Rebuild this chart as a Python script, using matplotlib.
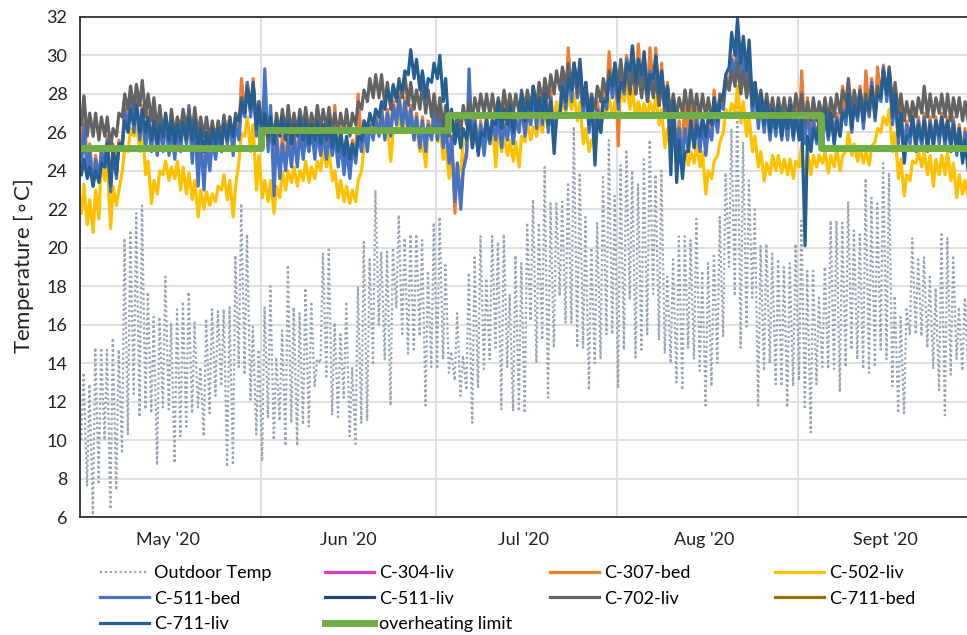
import numpy as np
import matplotlib
matplotlib.use("Agg")
import matplotlib.pyplot as plt
import matplotlib.dates as mdates

plt.rcParams['font.family'] = ['Lato', 'DejaVu Sans']

start = np.datetime64('2020-05-01')

# daily outdoor max / min, 1 May .. 30 Sep 2020
outdoor_hi = [13.5, 12.9, 14.8, 14.8, 14.7, 15.3, 14.7, 20.5, 20.9, 21.8,
              22.2, 17.7, 16.4, 16.4, 18.5, 16.1, 16.8, 17.2, 17.7, 16.1,
              13.8, 16.3, 16.8, 16.7, 16.8, 16.9, 19.6, 22.3, 20.7, 15.9,
              14.7, 16.9, 18.0, 14.3, 15.7, 19.1, 16.9, 16.6, 17.9, 17.2,
              14.2, 19.7, 19.9, 16.1, 15.5, 17.2, 13.8, 18.0, 20.3, 19.4,
              23.0, 19.8, 19.8, 20.0, 21.7, 20.5, 20.7, 20.7, 20.4, 18.8,
              21.3, 21.6, 19.1, 14.6, 16.6, 14.4, 18.7, 19.5, 20.6, 18.4,
              20.6, 20.3, 20.7, 17.6, 19.6, 19.2, 21.3, 22.5, 21.3, 24.2,
              22.3, 22.3, 22.4, 23.4, 26.3, 23.9, 21.6, 20.0, 21.3, 23.8,
              25.6, 22.7, 24.3, 25.1, 24.0, 23.3, 24.6, 25.6, 23.8, 24.0,
              18.5, 19.4, 20.6, 20.6, 20.4, 21.5, 18.8, 19.2, 19.7, 21.6,
              23.9, 26.2, 27.8, 25.5, 23.5, 22.0, 20.1, 20.2, 19.7, 19.4,
              19.0, 19.2, 20.2, 21.4, 18.8, 18.8, 17.4, 19.0, 21.4, 21.4,
              21.3, 22.4, 20.9, 20.7, 23.6, 22.6, 22.3, 24.4, 23.9, 17.5,
              16.4, 16.8, 20.5, 19.4, 19.5, 18.5, 17.9, 20.7, 20.5, 19.6,
              16.9, 17.4, 17.0]
outdoor_lo = [10.0, 7.6, 6.1, 7.7, 10.0, 6.4, 7.4, 9.3, 10.3, 12.4,
              11.2, 11.6, 11.4, 8.7, 11.7, 11.6, 8.8, 10.2, 10.7, 11.4,
              11.7, 10.2, 11.4, 12.3, 12.8, 8.6, 8.7, 13.8, 13.4, 12.1,
              10.3, 8.9, 11.2, 10.0, 11.0, 9.7, 10.9, 9.7, 10.8, 10.7,
              12.8, 14.0, 13.3, 11.3, 11.2, 12.2, 10.2, 9.8, 10.9, 11.0,
              13.9, 16.0, 14.2, 11.8, 16.9, 15.4, 14.5, 14.6, 15.4, 11.8,
              13.8, 13.7, 14.2, 13.5, 13.1, 12.3, 12.6, 10.9, 12.7, 13.7,
              14.2, 14.8, 11.6, 13.8, 11.5, 11.5, 11.4, 16.2, 14.0, 15.2,
              12.2, 14.8, 17.5, 16.1, 16.1, 14.8, 14.8, 12.6, 14.0, 14.2,
              15.5, 15.5, 12.7, 14.7, 17.3, 14.3, 14.7, 15.5, 17.6, 15.2,
              14.5, 14.0, 13.0, 12.6, 14.8, 14.2, 13.6, 11.8, 12.8, 14.0,
              15.4, 19.0, 17.5, 14.8, 15.9, 17.4, 11.8, 13.6, 14.0, 12.9,
              12.8, 11.7, 12.8, 13.1, 11.6, 10.4, 12.9, 13.8, 13.7, 13.7,
              12.5, 13.8, 14.7, 14.2, 13.7, 13.5, 13.8, 14.7, 14.2, 12.8,
              11.4, 11.4, 15.5, 15.5, 15.4, 14.8, 13.7, 12.6, 11.3, 13.4,
              14.2, 13.6, 13.4]

# C-307-bed
c307bed_hi = [27.8, 25.4, 24.8, 25.2, 25.8, 25.4, 25.6, 27.6, 28.4, 28.0,
              27.4, 27.0, 27.0, 26.6, 27.0, 26.6, 26.4, 26.8, 27.2, 26.8,
              26.0, 25.6, 26.0, 26.4, 26.6, 26.8, 26.8, 28.8, 28.6, 28.8,
              27.6, 27.2, 27.0, 26.2, 25.8, 26.2, 26.0, 26.4, 26.2, 26.6,
              26.4, 26.4, 26.2, 27.4, 26.0, 25.6, 25.6, 28.0, 26.6, 26.8,
              27.2, 27.4, 27.2, 27.6, 28.0, 27.8, 27.4, 27.0, 26.8, 26.6,
              27.4, 27.2, 26.6, 25.8, 24.4, 24.4, 27.0, 26.8, 26.6, 26.4,
              26.8, 27.0, 27.8, 27.2, 26.8, 27.6, 27.2, 28.4, 28.4, 28.8,
              28.2, 27.4, 29.2, 30.4, 29.6, 28.8, 28.6, 27.8, 27.6, 28.2,
              30.2, 29.6, 29.2, 30.0, 30.4, 30.6, 30.0, 30.4, 30.4, 29.6,
              28.6, 27.6, 26.6, 28.2, 28.2, 27.2, 26.8, 26.6, 28.2, 27.6,
              29.0, 30.0, 30.8, 30.4, 29.8, 28.6, 27.8, 27.6, 27.2, 27.4,
              27.2, 27.4, 28.0, 29.2, 27.8, 26.8, 26.8, 27.2, 27.4, 27.0,
              28.4, 28.2, 27.8, 28.4, 29.2, 28.8, 29.4, 29.5, 29.4, 28.2,
              27.2, 26.6, 27.0, 26.8, 27.0, 26.8, 26.8, 27.0, 26.8, 26.8,
              26.4, 26.2, 25.8]
c307bed_lo = [24.4, 23.8, 23.4, 23.6, 24.2, 23.2, 23.8, 25.2, 26.2, 26.2,
              25.8, 25.4, 25.2, 25.0, 25.2, 25.0, 24.8, 25.2, 25.4, 24.6,
              23.6, 23.4, 24.2, 24.8, 25.0, 25.4, 25.0, 26.0, 27.0, 27.0,
              26.0, 25.6, 25.2, 24.4, 24.0, 24.4, 24.4, 24.6, 24.8, 25.0,
              24.8, 25.0, 24.8, 25.2, 24.4, 24.0, 23.8, 24.8, 25.2, 25.2,
              25.8, 26.0, 25.8, 26.0, 26.6, 26.4, 26.2, 25.8, 25.4, 25.2,
              25.8, 25.8, 25.4, 24.0, 21.8, 22.4, 25.0, 25.4, 25.2, 25.0,
              25.6, 25.8, 25.4, 25.8, 25.6, 26.2, 26.0, 26.6, 26.4, 26.6,
              26.2, 25.6, 27.0, 27.4, 27.8, 27.8, 27.0, 26.2, 25.8, 26.2,
              27.4, 27.8, 25.3, 28.2, 28.6, 28.2, 28.4, 27.8, 28.2, 27.6,
              27.0, 25.8, 25.0, 24.8, 25.2, 25.4, 25.2, 25.0, 25.8, 26.2,
              27.4, 28.4, 29.0, 28.8, 28.2, 27.0, 26.4, 26.2, 25.8, 26.0,
              25.8, 25.8, 25.8, 26.0, 25.6, 25.4, 25.6, 25.8, 25.8, 25.6,
              26.0, 26.6, 26.2, 26.8, 26.4, 27.0, 26.8, 27.8, 27.8, 26.6,
              25.6, 25.0, 25.6, 25.2, 25.4, 25.2, 25.4, 25.6, 25.4, 25.2,
              25.0, 24.8, 24.6]

# C-502-liv
c502liv_hi = [23.3, 22.5, 23.0, 24.8, 24.5, 23.2, 23.0, 25.2, 26.2, 26.6,
              26.3, 24.5, 23.5, 24.0, 24.5, 24.2, 24.5, 24.2, 23.9, 23.5,
              23.0, 22.9, 22.8, 23.2, 23.8, 23.5, 23.2, 25.9, 26.8, 26.4,
              24.8, 23.5, 23.5, 23.2, 24.0, 24.0, 24.2, 24.0, 24.5, 24.2,
              24.5, 25.2, 25.0, 24.0, 23.5, 23.2, 23.0, 23.5, 25.2, 26.5,
              27.0, 27.2, 26.5, 26.0, 26.8, 26.8, 27.0, 26.3, 25.6, 26.2,
              27.0, 26.3, 25.2, 24.2, 24.2, 25.5, 26.0, 26.2, 26.0, 25.8,
              26.4, 26.3, 25.8, 25.6, 25.5, 25.8, 26.5, 26.3, 26.6, 27.0,
              27.3, 27.6, 27.8, 28.0, 28.0, 27.6, 26.2, 25.6, 26.2, 27.2,
              27.8, 27.6, 28.2, 28.6, 28.2, 27.6, 27.5, 27.6, 27.8, 27.2,
              26.2, 25.8, 26.0, 25.2, 25.0, 25.4, 25.0, 24.0, 24.5, 25.5,
              27.2, 27.5, 28.4, 27.6, 26.8, 25.8, 25.0, 24.4, 24.8, 24.8,
              24.6, 24.6, 24.5, 25.4, 25.0, 24.8, 24.8, 25.0, 24.8, 25.2,
              24.8, 26.0, 25.4, 25.2, 25.0, 25.3, 26.2, 26.8, 27.2, 26.0,
              24.6, 23.8, 24.5, 25.0, 25.0, 24.8, 24.6, 24.8, 25.0, 24.4,
              23.8, 23.5, 23.4]
c502liv_lo = [21.8, 21.2, 20.8, 21.5, 23.5, 21.0, 22.2, 24.0, 25.0, 25.8,
              25.0, 23.8, 22.3, 22.8, 23.8, 23.5, 23.6, 23.0, 22.8, 22.5,
              21.6, 22.0, 22.2, 22.4, 23.0, 22.5, 21.6, 24.5, 25.8, 25.0,
              23.0, 22.6, 22.4, 21.8, 22.6, 23.0, 23.4, 23.2, 23.5, 23.4,
              23.6, 24.0, 24.2, 23.5, 22.6, 22.4, 22.3, 22.4, 24.0, 25.5,
              26.2, 26.2, 25.8, 24.5, 26.2, 26.0, 26.2, 25.6, 25.0, 24.2,
              26.2, 25.5, 24.6, 23.6, 23.7, 24.0, 25.4, 25.4, 25.2, 25.0,
              25.6, 24.2, 25.0, 24.8, 24.5, 24.2, 25.5, 25.6, 25.8, 26.0,
              26.4, 26.7, 26.8, 27.0, 27.2, 26.6, 25.4, 25.0, 25.2, 26.2,
              27.0, 26.8, 27.0, 27.6, 27.2, 26.8, 26.8, 26.8, 27.0, 26.4,
              25.2, 25.0, 25.4, 24.6, 24.3, 24.4, 24.2, 22.8, 23.6, 24.8,
              26.0, 26.8, 27.0, 26.5, 25.8, 25.0, 24.2, 23.5, 23.8, 24.0,
              23.9, 23.8, 23.6, 24.2, 22.9, 23.8, 24.2, 24.4, 23.9, 24.2,
              24.0, 25.0, 24.8, 24.5, 24.4, 24.3, 25.5, 26.0, 26.4, 25.0,
              23.6, 22.7, 23.5, 24.4, 24.2, 23.8, 23.2, 23.8, 23.8, 23.5,
              22.6, 22.8, 22.6]

# C-511-bed
c511bed_hi = [26.4, 25.0, 24.6, 25.0, 25.6, 25.0, 25.4, 27.2, 27.8, 27.6,
              27.0, 26.6, 26.8, 26.4, 26.8, 26.4, 26.2, 26.6, 27.4, 26.8,
              25.8, 25.4, 25.6, 26.0, 26.4, 26.8, 26.4, 27.4, 28.6, 28.4,
              27.6, 29.3, 27.4, 25.8, 25.4, 25.6, 25.8, 26.0, 25.8, 26.2,
              26.0, 26.0, 25.8, 25.8, 25.6, 25.2, 25.2, 25.8, 26.2, 26.4,
              26.8, 27.2, 27.0, 27.4, 27.8, 27.6, 27.2, 26.8, 26.6, 26.4,
              27.2, 27.0, 26.4, 25.8, 24.4, 24.0, 29.3, 26.6, 26.4, 26.2,
              26.6, 26.8, 26.4, 27.0, 26.6, 27.4, 27.0, 28.2, 27.6, 28.2,
              27.8, 27.0, 28.8, 29.0, 29.4, 29.2, 28.4, 27.6, 27.2, 27.8,
              29.0, 29.4, 29.0, 29.8, 30.2, 29.6, 29.8, 29.2, 29.6, 29.0,
              28.2, 27.4, 26.2, 26.2, 26.6, 26.8, 26.6, 26.2, 27.2, 27.4,
              28.8, 29.8, 30.6, 30.2, 29.6, 28.4, 27.6, 27.4, 27.0, 27.2,
              27.0, 27.2, 27.0, 27.8, 27.4, 26.6, 26.6, 26.8, 27.0, 26.8,
              27.2, 28.0, 27.6, 28.2, 27.8, 28.6, 28.2, 29.4, 29.2, 28.0,
              27.0, 26.4, 26.8, 26.6, 26.8, 26.6, 26.6, 26.8, 26.6, 26.6,
              26.2, 26.0, 25.6]
c511bed_lo = [24.2, 23.8, 23.2, 23.6, 24.2, 22.9, 23.6, 25.2, 26.2, 26.0,
              25.6, 25.2, 25.0, 24.8, 25.0, 24.8, 24.6, 25.0, 25.4, 24.4,
              23.2, 23.0, 24.0, 24.6, 25.0, 25.4, 24.8, 25.6, 26.8, 26.8,
              25.8, 25.8, 25.0, 22.7, 23.6, 24.0, 24.2, 24.2, 24.6, 25.0,
              24.6, 24.8, 24.6, 24.8, 24.2, 23.8, 23.6, 24.4, 25.0, 25.0,
              25.6, 25.8, 25.6, 25.8, 26.4, 26.2, 26.0, 25.6, 25.2, 25.0,
              25.6, 25.6, 25.2, 24.4, 22.4, 22.0, 24.8, 25.2, 25.0, 24.8,
              25.4, 25.6, 25.2, 25.6, 25.4, 26.0, 25.8, 26.4, 26.2, 26.4,
              26.0, 25.4, 26.8, 27.2, 27.6, 27.8, 26.8, 26.0, 25.4, 26.0,
              27.2, 27.8, 27.2, 28.0, 28.4, 28.0, 28.2, 27.6, 28.0, 27.4,
              26.8, 25.6, 24.8, 24.6, 25.0, 25.2, 25.0, 24.8, 25.6, 26.0,
              27.2, 28.2, 28.8, 28.6, 28.0, 26.8, 26.2, 26.0, 25.6, 25.8,
              25.6, 25.6, 25.6, 25.8, 25.4, 25.2, 25.4, 25.6, 25.6, 25.4,
              25.8, 26.4, 26.0, 26.6, 26.2, 26.8, 26.6, 27.6, 27.6, 26.4,
              25.4, 24.8, 25.4, 25.0, 25.2, 25.0, 25.2, 25.4, 25.2, 25.0,
              24.8, 24.6, 24.4]

# C-702-liv
c702liv_hi = [27.9, 27.0, 27.0, 26.8, 26.8, 26.2, 27.0, 28.0, 28.4, 28.5,
              28.7, 28.0, 27.8, 27.4, 26.8, 27.2, 26.8, 27.2, 27.2, 27.3,
              26.8, 26.8, 26.6, 26.6, 26.9, 26.8, 27.0, 27.8, 28.4, 28.5,
              27.6, 27.0, 26.8, 27.0, 27.2, 27.4, 27.0, 27.2, 27.3, 27.0,
              27.4, 27.2, 27.3, 27.0, 27.0, 27.2, 27.0, 27.6, 28.2, 28.8,
              29.0, 29.0, 28.6, 28.5, 28.8, 29.0, 28.6, 28.2, 28.5, 28.2,
              28.0, 27.8, 27.4, 27.0, 27.0, 27.4, 27.6, 27.8, 28.0, 28.0,
              28.0, 27.8, 28.2, 28.0, 28.0, 28.2, 28.2, 28.4, 28.6, 28.8,
              29.0, 29.2, 29.4, 29.6, 29.6, 29.2, 28.6, 28.0, 28.4, 28.8,
              29.2, 29.6, 29.8, 29.4, 29.2, 29.2, 29.0, 28.8, 28.8, 28.6,
              28.4, 28.0, 27.8, 28.2, 28.2, 28.0, 28.0, 27.8, 27.6, 28.0,
              28.8, 29.2, 29.6, 29.2, 29.0, 28.6, 28.2, 28.0, 27.8, 27.8,
              27.8, 27.8, 28.0, 28.0, 27.6, 27.8, 27.6, 27.8, 27.8, 28.0,
              28.2, 28.8, 28.2, 28.2, 28.0, 28.2, 28.4, 29.2, 29.4, 28.6,
              28.0, 27.6, 27.6, 27.8, 28.4, 28.0, 27.8, 28.0, 28.0, 27.8,
              27.8, 27.6, 27.4]
c702liv_lo = [26.4, 25.8, 25.8, 25.6, 25.8, 25.2, 25.8, 26.8, 27.2, 27.2,
              27.4, 26.8, 26.6, 26.0, 25.8, 25.9, 25.8, 26.2, 26.2, 26.0,
              25.8, 25.8, 25.6, 25.6, 25.8, 25.8, 25.8, 26.6, 27.2, 27.2,
              26.5, 25.8, 25.6, 25.8, 26.0, 26.0, 26.0, 26.0, 26.2, 26.0,
              26.2, 26.2, 26.2, 26.0, 26.0, 26.0, 25.8, 26.4, 27.2, 27.6,
              27.8, 27.8, 27.4, 27.2, 27.6, 27.8, 27.4, 27.2, 27.2, 27.0,
              26.8, 26.6, 26.2, 25.8, 25.8, 26.0, 26.4, 26.8, 27.0, 27.0,
              26.9, 26.8, 27.0, 27.0, 27.0, 27.0, 27.2, 27.2, 27.4, 27.6,
              27.8, 28.0, 28.2, 28.4, 28.4, 28.0, 27.4, 27.0, 27.2, 27.6,
              28.0, 28.4, 28.6, 28.2, 28.0, 28.0, 27.8, 27.6, 27.8, 27.4,
              27.2, 27.0, 26.8, 27.0, 27.0, 27.0, 26.8, 26.8, 26.6, 27.0,
              27.6, 28.2, 28.4, 28.0, 27.8, 27.4, 27.2, 27.0, 26.8, 26.6,
              26.8, 26.6, 26.8, 27.0, 26.4, 26.6, 26.6, 26.8, 26.6, 26.8,
              27.0, 27.6, 27.0, 27.2, 27.0, 27.0, 27.2, 28.0, 28.2, 27.4,
              27.0, 26.6, 26.6, 26.8, 27.0, 26.8, 26.8, 27.0, 26.8, 26.6,
              26.8, 26.6, 26.4]

# C-711-liv
c711liv_hi = [24.6, 24.2, 24.0, 24.4, 25.4, 25.2, 25.4, 26.6, 27.2, 27.4,
              27.2, 26.8, 26.6, 26.4, 27.0, 26.6, 26.4, 26.5, 26.8, 26.6,
              26.2, 26.0, 26.2, 26.2, 26.4, 26.6, 26.8, 27.6, 28.2, 28.6,
              27.4, 27.0, 26.8, 26.6, 26.8, 26.6, 26.4, 26.8, 26.6, 26.4,
              26.6, 26.4, 26.6, 26.2, 26.0, 25.8, 25.4, 25.8, 26.6, 27.0,
              27.2, 27.6, 28.2, 28.4, 28.6, 29.2, 30.3, 29.8, 29.2, 28.8,
              29.6, 30.0, 28.8, 27.2, 26.4, 26.2, 26.8, 26.4, 26.0, 26.8,
              26.6, 27.6, 27.2, 27.4, 27.0, 28.0, 27.6, 28.4, 27.8, 28.0,
              27.6, 26.8, 28.4, 28.8, 29.6, 29.8, 28.6, 27.8, 26.8, 27.6,
              28.8, 29.6, 28.6, 29.6, 30.5, 29.8, 30.2, 29.0, 30.0, 29.2,
              28.4, 27.6, 25.6, 25.0, 26.6, 26.4, 26.8, 26.8, 27.8, 27.6,
              29.0, 31.2, 31.9, 31.0, 30.8, 28.6, 28.0, 27.6, 27.2, 27.4,
              27.0, 27.4, 27.0, 26.8, 25.8, 26.2, 26.6, 27.2, 27.0, 26.6,
              27.0, 28.0, 27.4, 28.0, 27.6, 28.4, 28.0, 29.2, 29.2, 28.0,
              27.0, 25.8, 26.8, 26.4, 26.6, 26.4, 26.6, 26.8, 26.6, 26.4,
              26.2, 25.6, 24.6]
c711liv_lo = [23.8, 23.6, 23.2, 23.4, 24.2, 23.2, 23.8, 25.4, 26.0, 26.4,
              26.0, 26.0, 25.6, 25.4, 25.8, 25.6, 25.4, 25.6, 25.6, 25.6,
              25.2, 25.0, 25.2, 25.4, 25.4, 25.6, 25.8, 26.6, 27.0, 27.2,
              26.2, 25.8, 25.8, 25.4, 25.8, 25.6, 25.4, 25.8, 25.6, 25.4,
              25.6, 25.4, 25.6, 25.2, 25.0, 24.8, 24.6, 24.8, 25.6, 26.2,
              26.4, 26.8, 27.2, 27.6, 27.8, 28.2, 29.0, 28.8, 28.2, 27.8,
              28.6, 28.8, 27.6, 26.0, 25.4, 25.2, 25.6, 25.2, 24.8, 25.8,
              25.6, 26.4, 26.2, 26.4, 26.0, 26.8, 26.6, 27.0, 26.8, 26.8,
              26.4, 24.9, 27.0, 27.6, 28.2, 28.4, 27.4, 26.4, 24.3, 26.0,
              27.6, 28.4, 27.6, 28.4, 29.2, 28.6, 29.0, 28.0, 28.8, 28.0,
              27.4, 23.8, 23.4, 23.6, 25.0, 25.2, 25.8, 25.8, 26.4, 26.6,
              28.0, 29.4, 30.0, 29.6, 29.2, 27.4, 26.8, 26.4, 26.0, 26.2,
              25.8, 26.2, 25.8, 25.6, 20.1, 25.0, 25.6, 26.2, 25.8, 25.4,
              25.8, 26.8, 26.2, 26.8, 26.6, 27.2, 26.8, 27.8, 28.0, 26.8,
              25.8, 24.4, 25.8, 25.4, 25.6, 25.2, 25.4, 25.8, 25.6, 25.4,
              25.2, 24.4, 23.8]

# overheating limit (steps)
limit_dates = ['2020-05-01', '2020-06-01', '2020-07-03', '2020-09-05', '2020-09-30']
limit_vals = [25.2, 26.1, 26.9, 25.2, 25.2]

month_labels = ["May '20", "Jun '20", "Jul '20", "Aug '20", "Sept '20"]

days = start + np.arange(len(outdoor_hi)).astype('timedelta64[D]')


def daily(lo, hi, lo_h, hi_h):
    t = np.empty(2 * len(lo), dtype='datetime64[m]')
    t[0::2] = days + np.timedelta64(lo_h, 'h')
    t[1::2] = days + np.timedelta64(hi_h, 'h')
    v = np.empty(2 * len(lo))
    v[0::2] = lo
    v[1::2] = hi
    return t, v


fig = plt.figure(figsize=(9.67, 6.35), dpi=100)
ax = fig.add_axes([80 / 967, 1 - 517 / 635, 887 / 967, 500 / 635])

lw = 2.3
t, v = daily(outdoor_lo, outdoor_hi, 5, 15)
h_out, = ax.plot(t, v, color='#97a2b2', lw=1.6, ls=(0, (1, 1.2)), label='Outdoor Temp')
h_304, = ax.plot([], [], color='#e23bc8', lw=lw, label='C-304-liv')
t, v = daily(c307bed_lo, c307bed_hi, 6, 16)
h_307, = ax.plot(t, v, color='#ED7D31', lw=lw, label='C-307-bed')
t, v = daily(c502liv_lo, c502liv_hi, 6, 16)
h_502, = ax.plot(t, v, color='#FFC000', lw=lw, label='C-502-liv')
t, v = daily(c511bed_lo, c511bed_hi, 6, 16)
h_511b, = ax.plot(t, v, color='#4472C4', lw=lw, label='C-511-bed')
h_511l, = ax.plot([], [], color='#264478', lw=lw, label='C-511-liv')
t, v = daily(c702liv_lo, c702liv_hi, 6, 16)
h_702, = ax.plot(t, v, color='#636363', lw=lw, label='C-702-liv')
h_711b, = ax.plot([], [], color='#997300', lw=lw, label='C-711-bed')
t, v = daily(c711liv_lo, c711liv_hi, 6, 16)
h_711l, = ax.plot(t, v, color='#255E91', lw=lw, label='C-711-liv')
h_lim, = ax.plot(np.array(limit_dates, dtype='datetime64[D]'), limit_vals,
                 drawstyle='steps-post', color='#70AD47', lw=5,
                 label='overheating limit')

ax.set_xlim(np.datetime64('2020-05-01'), np.datetime64('2020-09-30'))
ax.set_ylim(6, 32)
ax.set_yticks(np.arange(6, 33, 2))

ax.xaxis.set_major_locator(mdates.MonthLocator())
ax.xaxis.set_major_formatter(plt.NullFormatter())
ax.xaxis.set_minor_locator(mdates.MonthLocator(bymonthday=16))
ax.set_xticks(ax.get_xticks(minor=True), minor=True)
ax.set_xticklabels(month_labels, minor=True)

ax.grid(True, which='major', color='#d9d9d9', lw=1.2)
ax.set_axisbelow(True)
ax.tick_params(axis='both', which='both', length=0, labelsize=13, colors='#222222')
ax.tick_params(axis='x', which='minor', pad=11)
ax.tick_params(axis='y', pad=9)
for s in ['left', 'bottom', 'top']:
    ax.spines[s].set_color('#303030')
    ax.spines[s].set_linewidth(1.3)
ax.spines['right'].set_visible(False)

ax.set_ylabel(r'Temperature [$\circ$C]', fontsize=16, labelpad=8, color='#222222')

# legend, four columns laid out row by row
cols = [[h_out, h_511b, h_711l], [h_304, h_511l, h_lim], [h_307, h_702], [h_502, h_711b]]
col_x = [100, 325, 550, 775]
for hs, x in zip(cols, col_x):
    fig.legend(handles=hs, loc='upper left', bbox_to_anchor=(x / 967, 1 - 565 / 635),
               frameon=False, fontsize=13, handlelength=2.7, handletextpad=0.3,
               labelspacing=0.53, borderpad=0, borderaxespad=0)

fig.savefig('out.png', dpi=100)
